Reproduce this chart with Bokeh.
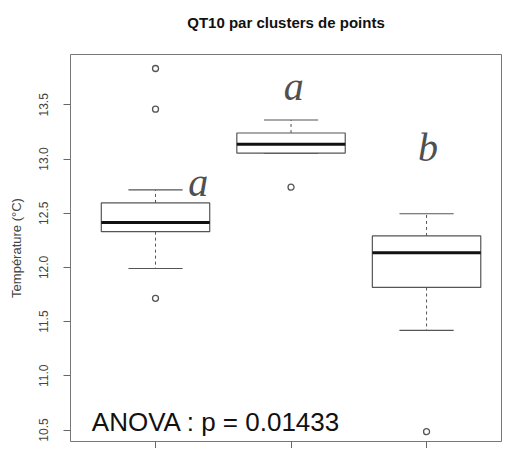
from bokeh.plotting import figure
from bokeh.models import Range1d, FixedTicker, PrintfTickFormatter, Label, ColumnDataSource, LinearAxis
from bokeh.embed import file_html
from bokeh.resources import INLINE

# ---- data ----
groups = [1, 2, 3]
lower_whisker = [11.99, 13.055, 11.42]
q1 = [12.33, 13.055, 11.815]
median = [12.415, 13.135, 12.135]
q3 = [12.595, 13.24, 12.29]
upper_whisker = [12.715, 13.36, 12.495]
outlier_group = [1, 1, 1, 2, 3]
outlier_value = [13.835, 13.46, 11.715, 12.74, 10.485]
letters = ["a", "a", "b"]
y_ticks = [10.5, 11.0, 11.5, 12.0, 12.5, 13.0, 13.5]
title_text = "QT10 par clusters de points"
ylabel_text = "Température (°C)"
anova_text = "ANOVA : p = 0.01433"

BW = 0.8
CAP = 0.4
LC = "#555555"

p = figure(width=503, height=448, output_backend="svg", toolbar_location=None,
           x_range=Range1d(0.3727, 3.553), y_range=Range1d(10.394, 13.964),
           min_border_left=70, min_border_right=2, min_border_top=54, min_border_bottom=7)

p.grid.visible = False
p.outline_line_color = "#777777"
p.outline_line_width = 1
p.background_fill_color = "white"
p.border_fill_color = "white"

# axes
p.yaxis.ticker = FixedTicker(ticks=y_ticks)
p.yaxis.formatter = PrintfTickFormatter(format="%.1f")
p.yaxis.major_label_orientation = "vertical"
p.yaxis.major_label_text_font = "Liberation Sans"
p.yaxis.major_label_text_font_size = "12px"
p.yaxis.major_label_text_color = "#444444"
p.yaxis.major_label_standoff = 15
p.yaxis.axis_label = ylabel_text
p.yaxis.axis_label_text_font = "Liberation Sans"
p.yaxis.axis_label_text_font_size = "13px"
p.yaxis.axis_label_text_font_style = "normal"
p.yaxis.axis_label_text_color = "#444444"
p.yaxis.axis_label_standoff = 13

p.xaxis.ticker = FixedTicker(ticks=groups)
p.xaxis.major_label_overrides = {1: "", 2: "", 3: ""}
p.xaxis.major_label_text_font_size = "1px"
p.xaxis.major_label_standoff = 0

for ax in (p.xaxis, p.yaxis):
    ax.axis_line_color = None
    ax.major_tick_line_color = "#666666"
    ax.major_tick_out = 7
    ax.major_tick_in = 0
    ax.minor_tick_line_color = None

# title: label of a tick-less axis above the frame
tax = LinearAxis(ticker=FixedTicker(ticks=[]), axis_label=title_text,
                 axis_line_color=None, major_tick_line_color=None, minor_tick_line_color=None,
                 major_label_text_font_size="1px", major_label_standoff=0,
                 axis_label_standoff=24, axis_label_text_font="Liberation Sans",
                 axis_label_text_font_style="bold", axis_label_text_font_size="15px",
                 axis_label_text_color="#111111")
p.add_layout(tax, "above")

src = ColumnDataSource(dict(x=groups, lo=lower_whisker, q1=q1, med=median, q3=q3, hi=upper_whisker,
                            xl=[g - BW / 2 for g in groups], xr=[g + BW / 2 for g in groups],
                            cl=[g - CAP / 2 for g in groups], cr=[g + CAP / 2 for g in groups]))

p.segment(x0="x", y0="q3", x1="x", y1="hi", source=src, line_color=LC, line_width=1, line_dash="3 3")
p.segment(x0="x", y0="q1", x1="x", y1="lo", source=src, line_color=LC, line_width=1, line_dash="3 3")
p.segment(x0="cl", y0="hi", x1="cr", y1="hi", source=src, line_color=LC, line_width=1.2)
p.segment(x0="cl", y0="lo", x1="cr", y1="lo", source=src, line_color=LC, line_width=1.2)
p.vbar(x="x", width=BW, bottom="q1", top="q3", source=src, fill_color="white", line_color=LC, line_width=1.2)
p.segment(x0="xl", y0="med", x1="xr", y1="med", source=src, line_color="#111111", line_width=3)
p.scatter(outlier_group, outlier_value, marker="circle", size=6, fill_color="white",
          line_color=LC, line_width=1.3)

letter_pos = [(1.316, 12.78), (2.02, 13.665), (3.01, 13.11)]
for t, (lx, ly) in zip(letters, letter_pos):
    p.add_layout(Label(x=lx, y=ly, text=t, text_align="center", text_baseline="alphabetic",
                       text_font="Liberation Serif", text_font_style="italic",
                       text_font_size="40px", text_color="#505050"))

p.add_layout(Label(x=0.53, y=10.575, text=anova_text, text_align="left", text_baseline="alphabetic",
                   text_font="Liberation Sans", text_font_size="26px", text_color="#111111"))

open("out.html", "w").write(file_html(p, INLINE))
